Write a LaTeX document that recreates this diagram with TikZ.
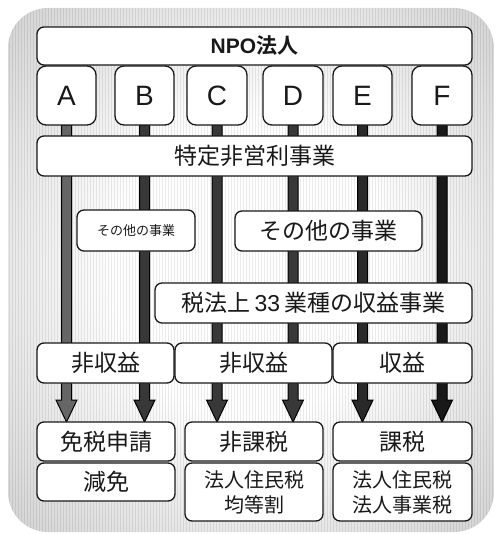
\documentclass[tikz,border=0pt]{standalone}
\usepackage{fontspec}
\setmainfont{Liberation Sans}
\newfontfamily\jp{Noto Sans CJK JP}[BoldFont={Noto Sans CJK JP Bold}]
\usetikzlibrary{calc}
\pgfdeclarelayer{bg}\pgfdeclarelayer{arr}\pgfsetlayers{bg,arr,main}
\pgfdeclareradialshading{bgshade}{\pgfpoint{0bp}{0bp}}{color(0bp)=(white); color(14bp)=(white); color(36bp)=(black!18); color(50bp)=(black!34)}
\newcommand\blockarrow[3]{%
  \path[draw=black, line width=1pt, fill=#3]
    let \p1=(#1.south), \p2=(#2.north) in
    (\x1-5pt,\y1) -- (\x1-5pt,\y2+22pt) -- (\x1-10.5pt,\y2+22pt) -- (\x1,\y2)
    -- (\x1+10.5pt,\y2+22pt) -- (\x1+5pt,\y2+22pt) -- (\x1+5pt,\y1) -- cycle;}
\tikzset{
  box/.style={draw=black!90, line width=1.3pt, fill=white, rounded corners=7pt,
    inner sep=0pt, outer sep=0pt, text=black!90, align=center},
  letter/.style={box, rounded corners=9pt, minimum width=59pt, minimum height=59pt,
    font=\fontsize{28}{30}\selectfont},
  jl/.style={font=\jp\fontsize{23}{26}\selectfont},
  js/.style={font=\jp\fontsize{20}{25}\selectfont},
}
\begin{document}
\begin{tikzpicture}[x=1pt,y=-1pt]
\useasboundingbox (0,0) rectangle (497,535);
% background
\begin{pgfonlayer}{bg}
  \path[shading=bgshade, rounded corners=40pt] (8,8) rectangle (494,532);
  \begin{scope}
    \clip[rounded corners=40pt] (8,8) rectangle (494,532);
    \draw[black, opacity=0.08, line width=0.5pt, step=3] (8,8) grid (494,532);
  \end{scope}
\end{pgfonlayer}
% top
\node[box, minimum width=435pt, minimum height=38pt] (npo) at (254.5,46)
  {{\fontsize{21}{24}\selectfont\bfseries NPO}{\jp\fontsize{21}{24}\selectfont\bfseries 法人}};
\node[letter] (a) at (66.5,95.5) {A};
\node[letter] (b) at (144.5,95.5) {B};
\node[letter, minimum width=60pt] (c) at (217,95.5) {C};
\node[letter, minimum width=60pt] (d) at (293,95.5) {D};
\node[letter] (e) at (362.5,95.5) {E};
\node[letter, minimum width=60pt] (f) at (442,95.5) {F};
\node[box, jl, minimum width=435pt, minimum height=40pt] (tok) at (254.5,156) {特定非営利事業};
\node[box, font=\jp\fontsize{13}{15}\selectfont, minimum width=118pt, minimum height=41pt] (so1) at (136,230.5) {その他の事業};
\node[box, jl, minimum width=187pt, minimum height=40pt] (so2) at (328.5,231) {その他の事業};
\node[box, jl, minimum width=317pt, minimum height=40pt] (zei) at (313.5,303)
  {税法上\hspace{4pt}{\rmfamily 33}\hspace{4pt}業種の収益事業};
% income row
\node[box, jl, minimum width=137pt, minimum height=40pt] (h1) at (105.5,363) {非収益};
\node[box, jl, minimum width=157pt, minimum height=40pt] (h2) at (253.5,363) {非収益};
\node[box, jl, minimum width=139pt, minimum height=40pt] (h3) at (402.5,363) {収益};
% bottom
\node[box, jl, minimum width=138pt, minimum height=39pt] (m1) at (106,441.5) {免税申請};
\node[box, jl, minimum width=138pt, minimum height=38pt] (g1) at (106,482) {減免};
\node[box, jl, minimum width=138pt, minimum height=39pt] (m2) at (254,441.5) {非課税};
\node[box, js, minimum width=138pt, minimum height=58pt] (g2) at (254,492) {法人住民税\\均等割};
\node[box, jl, minimum width=139pt, minimum height=39pt] (m3) at (402.5,441.5) {課税};
\node[box, js, minimum width=139pt, minimum height=58pt] (g3) at (402.5,492) {法人住民税\\法人事業税};
% arrows
\begin{pgfonlayer}{arr}
  \blockarrow{a}{m1}{black!60}
  \blockarrow{b}{m1}{black!78}
  \blockarrow{c}{m2}{black!78}
  \blockarrow{d}{m2}{black!78}
  \blockarrow{e}{m3}{black!84}
  \blockarrow{f}{m3}{black!90}
\end{pgfonlayer}
\end{tikzpicture}
\end{document}
